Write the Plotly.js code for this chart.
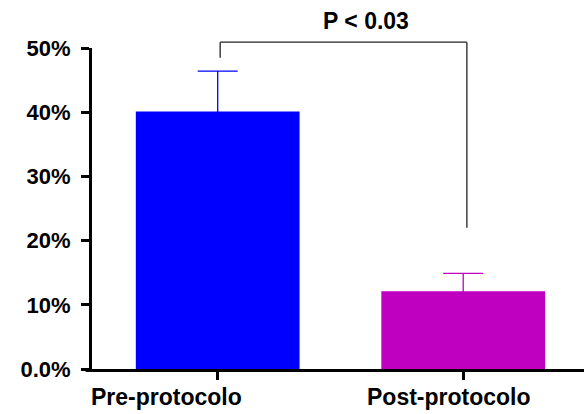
<!DOCTYPE html>
<html>
<head>
<meta charset="utf-8">
<script src="https://cdn.plot.ly/plotly-3.0.1.min.js"></script>
<style>html,body{margin:0;padding:0;background:#fff;}#chart{width:584px;height:414px;}</style>
</head>
<body>
<div id="chart"></div>
<script>
// Data
var categories = ['Pre-protocolo', 'Post-protocolo'];
var values = [40.1, 12.1];          // percent
var errors = [6.3, 2.8];            // percent (upper error)
var barColors = ['#0000ff', '#c000c0'];
var tickVals = [0, 10, 20, 30, 40, 50];
var tickText = ['0.0%', '10%', '20%', '30%', '40%', '50%'];
var pText = 'P < 0.03';
var yMax = 50;

var FONT = '"Liberation Sans", Arial, sans-serif';
// lower cap hidden inside the bar (same colour as bar)
var hiddenShoe = 1.0;

var traces = categories.map(function (c, i) {
  return {
    type: 'bar',
    x: [c],
    y: [values[i]],
    marker: {color: barColors[i], line: {width: 0}},
    error_y: {type: 'data', symmetric: false, array: [errors[i]], arrayminus: [hiddenShoe],
              color: barColors[i], thickness: 1.3, width: 20},
    width: 0.667,
    hoverinfo: 'none',
    showlegend: false
  };
});

function py(v) { return v / yMax; } // percent value -> paper y

var lineStyle = {color: '#222', width: 1.3};
var bx0 = 0.01, bx1 = 1.015;
var shapes = [
  {type: 'line', xref: 'x', yref: 'paper', x0: bx0, x1: bx0, y0: py(48.5), y1: py(50.9), line: lineStyle},
  {type: 'line', xref: 'x', yref: 'paper', x0: bx0, x1: bx1, y0: py(50.9), y1: py(50.9), line: lineStyle},
  {type: 'line', xref: 'x', yref: 'paper', x0: bx1, x1: bx1, y0: py(50.9), y1: py(22.0), line: lineStyle},
  {type: 'line', xref: 'paper', yref: 'paper', x0: -0.013, x1: 0, y0: -0.0045, y1: -0.0045, line: {color: '#000', width: 3}}
];

var labelOffsets = [-0.207, -0.057];
var annotations = categories.map(function (c, i) {
  return {text: c, xref: 'x', yref: 'paper', x: i + labelOffsets[i], y: 0, yanchor: 'top', yshift: -13,
          showarrow: false, font: {family: FONT, size: 23, color: '#000', weight: 'bold'}};
});
annotations.push({text: pText, xref: 'x', yref: 'paper', x: 0.606, y: 1.084, yanchor: 'middle',
  showarrow: false, font: {family: FONT, size: 23, color: '#000', weight: 'bold'}});

var layout = {
  width: 584, height: 414,
  margin: {l: 92, r: 0, t: 48, b: 45, pad: 0},
  paper_bgcolor: '#fff', plot_bgcolor: '#fff',
  bargap: 0.333,
  xaxis: {type: 'category', range: [-0.512, 1.492], showgrid: false, zeroline: false,
          showline: true, linecolor: '#000', linewidth: 3,
          ticks: 'outside', ticklen: 8, tickwidth: 3, tickcolor: '#000',
          showticklabels: false, fixedrange: true},
  yaxis: {range: [0, yMax], showgrid: false, zeroline: false,
          showline: true, linecolor: '#000', linewidth: 3,
          ticks: 'outside', ticklen: 8, tickwidth: 3, tickcolor: '#000',
          tickvals: tickVals, ticktext: tickText, ticklabelstandoff: 6,
          tickfont: {family: FONT, size: 22, color: '#000', weight: 'bold'}, fixedrange: true},
  shapes: shapes,
  annotations: annotations
};

Plotly.newPlot('chart', traces, layout, {staticPlot: true, displayModeBar: false});
</script>
</body>
</html>
